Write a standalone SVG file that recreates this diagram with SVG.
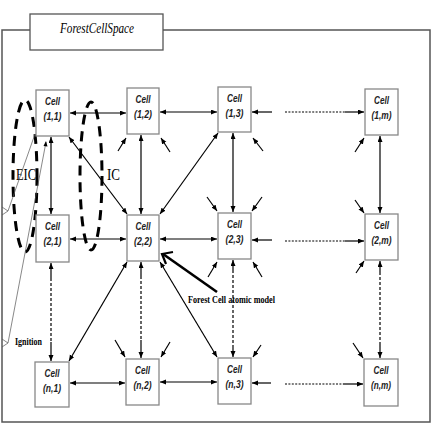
<svg xmlns="http://www.w3.org/2000/svg" width="432" height="432" viewBox="0 0 432 432">
<defs>
<marker id="ah" markerUnits="userSpaceOnUse" markerWidth="7" markerHeight="6" refX="6" refY="2.5" orient="auto-start-reverse">
<path d="M0,0 L6,2.5 L0,5 z" fill="#000"/>
</marker>
<style>
.cell rect{fill:#fff;stroke:#888;stroke-width:1.3}
.cell text{font-family:"Liberation Sans",Arial,sans-serif;font-style:italic;font-weight:bold;font-size:10.5px;text-anchor:middle;fill:#222}
.c{stroke:#000;stroke-width:1.2;fill:none}
.ar{marker-end:url(#ah)}
.ab{marker-start:url(#ah);marker-end:url(#ah)}
.dot{stroke:#000;stroke-width:1.2;stroke-dasharray:2 1.4;fill:none}
.dash{stroke:#000;stroke-width:1.2;stroke-dasharray:3 2;fill:none}
.thin{stroke:#555;stroke-width:0.7;fill:none}
.ell{fill:none;stroke:#000;stroke-width:3;stroke-dasharray:10 7}
.serif{font-family:"Liberation Serif","Times New Roman",serif}
</style>
</defs>
<rect width="432" height="432" fill="#fff"/>
<g id="frame">
<rect x="2" y="30" width="428" height="392" fill="none" stroke="#555" stroke-width="1.5"/>
<rect x="30" y="14" width="133" height="36" fill="#fff" stroke="#555" stroke-width="1.3"/>
<text x="60" y="32.5" class="serif" font-style="italic" font-size="14" textLength="74" lengthAdjust="spacingAndGlyphs">ForestCellSpace</text>
</g>
<g id="ellipses">
<ellipse class="ell" cx="25" cy="176" rx="12" ry="76"/>
<ellipse class="ell" cx="91" cy="176" rx="11" ry="74"/>
<text x="16" y="180" class="serif" font-size="16" textLength="20" lengthAdjust="spacingAndGlyphs">EIC</text>
<text x="107" y="180" class="serif" font-size="16" textLength="13" lengthAdjust="spacingAndGlyphs">IC</text>
</g>
<g id="connectors">
<line class="c ab" x1="70" y1="113" x2="126" y2="113"/>
<line class="c ab" x1="160" y1="112" x2="217" y2="112"/>
<line class="c ar" x1="272" y1="112" x2="252" y2="112"/>
<line class="dot" x1="285" y1="112" x2="345" y2="112"/>
<line class="c ar" x1="345" y1="112" x2="364" y2="112"/>
<line class="c ab" x1="70" y1="239" x2="126" y2="239"/>
<line class="c ab" x1="160" y1="239" x2="217" y2="239"/>
<line class="c ar" x1="272" y1="240" x2="252" y2="240"/>
<line class="dot" x1="285" y1="241" x2="345" y2="241"/>
<line class="c ar" x1="345" y1="241" x2="364" y2="241"/>
<line class="c ab" x1="70" y1="383" x2="125" y2="383"/>
<line class="c ab" x1="160" y1="382" x2="217" y2="382"/>
<line class="c ar" x1="271" y1="383" x2="252" y2="383"/>
<line class="dot" x1="285" y1="384" x2="343" y2="384"/>
<line class="c ar" x1="343" y1="384" x2="363" y2="384"/>
<line class="c ab" x1="51" y1="137" x2="51" y2="214"/>
<line class="c ab" x1="141" y1="135" x2="141" y2="214"/>
<line class="c ab" x1="233" y1="133" x2="233" y2="212"/>
<line class="c ab" x1="380" y1="136" x2="380" y2="213"/>
<line class="c ar" x1="51" y1="278" x2="51" y2="263"/>
<line class="dash" x1="51" y1="278" x2="51" y2="342"/>
<line class="c ar" x1="51" y1="342" x2="51" y2="361"/>
<line class="c ar" x1="141" y1="276" x2="141" y2="262"/>
<line class="dash" x1="141" y1="276" x2="141" y2="340"/>
<line class="c ar" x1="141" y1="340" x2="141" y2="358"/>
<line class="c ar" x1="233" y1="270" x2="233" y2="260"/>
<line class="dash" x1="233" y1="270" x2="233" y2="346"/>
<line class="c ar" x1="233" y1="346" x2="233" y2="357"/>
<line class="c ar" x1="380" y1="272" x2="380" y2="261"/>
<line class="dash" x1="380" y1="272" x2="380" y2="345"/>
<line class="c ar" x1="380" y1="345" x2="380" y2="358"/>
<line class="c ab" x1="69" y1="137" x2="127" y2="214"/>
<line class="c ab" x1="218" y1="133" x2="160" y2="214"/>
<line class="c ab" x1="127" y1="262" x2="69" y2="361"/>
<line class="c ab" x1="160" y1="262" x2="217" y2="357"/>
<line class="c ar" x1="118" y1="151" x2="126" y2="138"/>
<line class="c ar" x1="170" y1="152" x2="161" y2="138"/>
<line class="c ar" x1="263" y1="151" x2="253" y2="138"/>
<line class="c ar" x1="355" y1="152" x2="364" y2="138"/>
<line class="c ar" x1="207" y1="197" x2="217" y2="211"/>
<line class="c ar" x1="262" y1="197" x2="252" y2="211"/>
<line class="c ar" x1="208" y1="277" x2="217" y2="262"/>
<line class="c ar" x1="262" y1="277" x2="253" y2="262"/>
<line class="c ar" x1="355" y1="200" x2="364" y2="213"/>
<line class="c ar" x1="356" y1="273" x2="364" y2="261"/>
<line class="c ar" x1="115" y1="340" x2="125" y2="357"/>
<line class="c ar" x1="170" y1="342" x2="161" y2="357"/>
<line class="c ar" x1="261" y1="345" x2="253" y2="357"/>
<line class="c ar" x1="353" y1="343" x2="363" y2="358"/>
<path class="thin" d="M2,207 L8,211 L2,215"/>
<line class="thin" x1="8" y1="211" x2="35" y2="134"/>
<path class="thin" d="M2,339 L8,343 L2,347"/>
<line class="thin" x1="8" y1="343" x2="46" y2="142"/>
<path d="M43.5,146 L46,141 L47.5,146.5 z" fill="#000"/>
<line x1="217" y1="292" x2="163" y2="254" stroke="#000" stroke-width="2.6"/>
<polyline points="173,252 162,254 166,264" fill="none" stroke="#000" stroke-width="2.2"/>
</g>
<g id="labels">
<text x="188" y="303" class="serif" font-weight="bold" font-size="10" textLength="87" lengthAdjust="spacingAndGlyphs">Forest Cell atomic model</text>
<text x="15" y="345" class="serif" font-weight="bold" font-size="10" textLength="27" lengthAdjust="spacingAndGlyphs">Ignition</text>
</g>
<g id="cell-1-1" class="cell"><rect x="36" y="90" width="33" height="46"/><text x="52.5" y="105" textLength="15" lengthAdjust="spacingAndGlyphs">Cell</text><text x="52.5" y="120" textLength="18" lengthAdjust="spacingAndGlyphs">(1,1)</text></g>
<g id="cell-1-2" class="cell"><rect x="127" y="88" width="32" height="46"/><text x="143" y="103" textLength="15" lengthAdjust="spacingAndGlyphs">Cell</text><text x="143" y="118" textLength="18" lengthAdjust="spacingAndGlyphs">(1,2)</text></g>
<g id="cell-1-3" class="cell"><rect x="218" y="87" width="33" height="45"/><text x="234.5" y="102" textLength="15" lengthAdjust="spacingAndGlyphs">Cell</text><text x="234.5" y="117" textLength="18" lengthAdjust="spacingAndGlyphs">(1,3)</text></g>
<g id="cell-1-m" class="cell"><rect x="365" y="89" width="33" height="46"/><text x="381.5" y="104" textLength="15" lengthAdjust="spacingAndGlyphs">Cell</text><text x="381.5" y="119" textLength="20" lengthAdjust="spacingAndGlyphs">(1,m)</text></g>
<g id="cell-2-1" class="cell"><rect x="36" y="215" width="33" height="47"/><text x="52.5" y="230" textLength="15" lengthAdjust="spacingAndGlyphs">Cell</text><text x="52.5" y="245" textLength="18" lengthAdjust="spacingAndGlyphs">(2,1)</text></g>
<g id="cell-2-2" class="cell"><rect x="127" y="215" width="32" height="46"/><text x="143" y="230" textLength="15" lengthAdjust="spacingAndGlyphs">Cell</text><text x="143" y="245" textLength="18" lengthAdjust="spacingAndGlyphs">(2,2)</text></g>
<g id="cell-2-3" class="cell"><rect x="218" y="213" width="33" height="46"/><text x="234.5" y="228" textLength="15" lengthAdjust="spacingAndGlyphs">Cell</text><text x="234.5" y="243" textLength="18" lengthAdjust="spacingAndGlyphs">(2,3)</text></g>
<g id="cell-2-m" class="cell"><rect x="365" y="214" width="33" height="46"/><text x="381.5" y="229" textLength="15" lengthAdjust="spacingAndGlyphs">Cell</text><text x="381.5" y="244" textLength="20" lengthAdjust="spacingAndGlyphs">(2,m)</text></g>
<g id="cell-n-1" class="cell"><rect x="35" y="362" width="34" height="45"/><text x="52" y="377" textLength="15" lengthAdjust="spacingAndGlyphs">Cell</text><text x="52" y="392" textLength="18" lengthAdjust="spacingAndGlyphs">(n,1)</text></g>
<g id="cell-n-2" class="cell"><rect x="126" y="359" width="33" height="46"/><text x="142.5" y="374" textLength="15" lengthAdjust="spacingAndGlyphs">Cell</text><text x="142.5" y="389" textLength="18" lengthAdjust="spacingAndGlyphs">(n,2)</text></g>
<g id="cell-n-3" class="cell"><rect x="218" y="358" width="33" height="46"/><text x="234.5" y="373" textLength="15" lengthAdjust="spacingAndGlyphs">Cell</text><text x="234.5" y="388" textLength="18" lengthAdjust="spacingAndGlyphs">(n,3)</text></g>
<g id="cell-n-m" class="cell"><rect x="364" y="359" width="34" height="47"/><text x="381" y="374" textLength="15" lengthAdjust="spacingAndGlyphs">Cell</text><text x="381" y="389" textLength="20" lengthAdjust="spacingAndGlyphs">(n,m)</text></g>
</svg>
